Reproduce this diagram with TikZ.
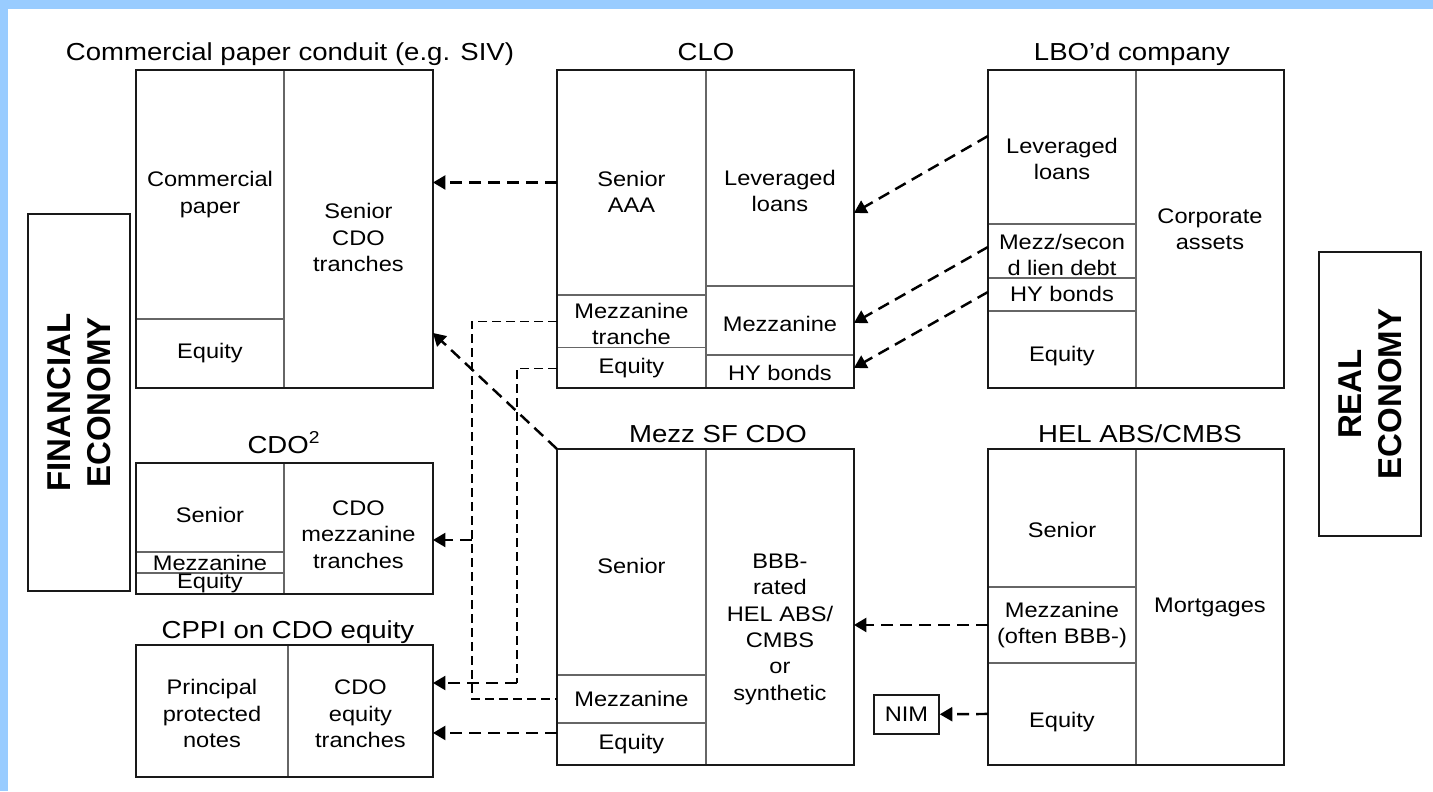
\documentclass[tikz,border=0pt]{standalone}
\usepackage{fontspec}
\setmainfont{Liberation Sans}[FakeStretch=1.12]
\newfontfamily\econfont{Liberation Sans}
\usepackage{tikz}
\usetikzlibrary{arrows.meta}
\definecolor{bandblue}{RGB}{153,204,255}
\newcommand{\lowertext}[2]{\raisebox{-#1}[\height][\depth]{\begin{tabular}{@{}c@{}}#2\end{tabular}}}

\begin{document}
\begin{tikzpicture}[x=0.02cm, y=-0.02cm,
  cell/.style={draw=black!60, line width=0.9pt, inner sep=0pt, outer sep=0pt, anchor=north west, align=center, minimum width=2.96cm, font=\fontsize{12}{15}\selectfont},
  frame/.style={draw=black!90, line width=0.9pt},
  title/.style={anchor=base, font=\fontsize{14}{16}\selectfont},
  econ/.style={draw=black!90, line width=0.9pt, rotate=90, align=center, minimum height=2.04cm, font=\econfont\bfseries\fontsize{18.8}{22.7}\selectfont},
  flow/.style={-{Triangle[length=0.25cm, width=0.28cm]}, line width=1.4pt, dash pattern=on 0.24cm off 0.14cm},
  link/.style={line width=0.7pt, dash pattern=on 0.18cm off 0.1cm}]
\useasboundingbox (0,0) rectangle (1433,791);
\fill[bandblue] (0,0) rectangle (1433,9);
\fill[bandblue] (0,0) rectangle (8,791);

\node (finEcon) [econ, minimum width=7.54cm] at (79,402.5) {FINANCIAL\\ECONOMY};
\node (realEcon) [econ, minimum width=5.68cm] at (1370,394) {REAL\\ECONOMY};

% commercial paper conduit
\node (cpPaper) [cell, minimum height=4.98cm] at (136,70) {Commercial\\paper};
\node (cpEquity) [cell, minimum height=1.38cm] at (cpPaper.south west) {Equity};
\node (cpSenior) [cell, minimum width=2.98cm, minimum height=6.36cm] at (cpPaper.north east) {\lowertext{0.22cm}{Senior\\CDO\\tranches}};
\draw[frame] (cpPaper.north west) rectangle (cpSenior.south east);
\node (cpTitle) [title] at ([yshift=0.2cm, xshift=0.12cm]cpPaper.north east) {Commercial paper conduit (e.g. SIV)};

% CLO
\node (cloSenior) [cell, minimum width=2.98cm, minimum height=4.5cm] at (557,70) {\lowertext{0.24cm}{Senior\\AAA}};
\node (cloMezz) [cell, minimum width=2.98cm, minimum height=1.04cm] at (cloSenior.south west) {\lowertext{0.1cm}{Mezzanine\\tranche}};
\node (cloEquity) [cell, minimum width=2.98cm, minimum height=0.82cm] at (cloMezz.south west) {Equity};
\node (cloLoans) [cell, minimum height=4.32cm] at (cloSenior.north east) {\lowertext{0.3cm}{Leveraged\\loans}};
\node (cloMezzR) [cell, minimum height=1.38cm] at (cloLoans.south west) {\lowertext{0.12cm}{Mezzanine}};
\node (cloHY) [cell, minimum height=0.66cm] at (cloMezzR.south west) {\lowertext{0.07cm}{HY bonds}};
\draw[frame] (cloSenior.north west) rectangle (cloHY.south east);
\node (cloTitle) [title] at ([yshift=0.2cm]cloSenior.north east) {CLO};

% LBO'd company
\node (lboLoans) [cell, minimum height=3.08cm] at (988,70) {\lowertext{0.28cm}{Leveraged\\loans}};
\node (lboMezz) [cell, minimum height=1.08cm] at (lboLoans.south west) {\lowertext{0.12cm}{Mezz/secon\\d lien debt}};
\node (lboHY) [cell, minimum height=0.66cm] at (lboMezz.south west) {HY bonds};
\node (lboEquity) [cell, minimum height=1.54cm] at (lboHY.south west) {\lowertext{0.14cm}{Equity}};
\node (lboAssets) [cell, minimum height=6.36cm] at (lboLoans.north east) {Corporate\\assets};
\draw[frame] (lboLoans.north west) rectangle (lboAssets.south east);
\node (lboTitle) [title] at ([yshift=0.2cm, xshift=-0.08cm]lboLoans.north east) {LBO’d company};

% CDO squared
\node (sqSenior) [cell, minimum height=1.78cm] at (136,463) {\lowertext{0.2cm}{Senior}};
\node (sqMezz) [cell, minimum height=0.42cm] at (sqSenior.south west) {Mezzanine};
\node (sqEquity) [cell, minimum height=0.42cm] at (sqMezz.south west) {Equity};
\node (sqTranches) [cell, minimum width=2.98cm, minimum height=2.62cm] at (sqSenior.north east) {\lowertext{0.16cm}{CDO\\mezzanine\\tranches}};
\draw[frame] (sqSenior.north west) rectangle (sqTranches.south east);
\node (sqTitle) [title] at ([yshift=0.2cm]sqSenior.north east) {CDO\textsuperscript{2}};

% CPPI
\node (cppiNotes) [cell, minimum width=3.04cm, minimum height=2.64cm] at (136,645) {\lowertext{0.1cm}{Principal\\protected\\notes}};
\node (cppiTranches) [cell, minimum width=2.9cm, minimum height=2.64cm] at (cppiNotes.north east) {\lowertext{0.1cm}{CDO\\equity\\tranches}};
\draw[frame] (cppiNotes.north west) rectangle (cppiTranches.south east);
\node (cppiTitle) [title] at ([yshift=0.14cm]cppiNotes.north east) {CPPI on CDO equity};

% mezz SF CDO
\node (msfSenior) [cell, minimum width=2.98cm, minimum height=4.52cm] at (557,449) {\lowertext{0.12cm}{Senior}};
\node (msfMezz) [cell, minimum width=2.98cm, minimum height=0.96cm] at (msfSenior.south west) {Mezzanine};
\node (msfEquity) [cell, minimum width=2.98cm, minimum height=0.84cm] at (msfMezz.south west) {Equity};
\node (msfRight) [cell, minimum height=6.32cm] at (msfSenior.north east) {\lowertext{0.44cm}{BBB-\\rated\\HEL ABS/\\CMBS\\or\\synthetic}};
\draw[frame] (msfSenior.north west) rectangle (msfRight.south east);
\node (msfTitle) [title] at ([yshift=0.14cm, xshift=0.24cm]msfSenior.north east) {Mezz SF CDO};

% HEL ABS/CMBS
\node (helSenior) [cell, minimum height=2.76cm] at (988,449) {\lowertext{0.28cm}{Senior}};
\node (helMezz) [cell, minimum height=1.52cm] at (helSenior.south west) {Mezzanine\\(often BBB-)};
\node (helEquity) [cell, minimum height=2.04cm] at (helMezz.south west) {\lowertext{0.16cm}{Equity}};
\node (helMortgages) [cell, minimum height=6.32cm] at (helSenior.north east) {Mortgages};
\draw[frame] (helSenior.north west) rectangle (helMortgages.south east);
\node (helTitle) [title] at ([yshift=0.14cm, xshift=0.08cm]helSenior.north east) {HEL ABS/CMBS};

\node (nim) [draw=black!90, line width=0.9pt, minimum width=1.3cm, minimum height=0.78cm, inner sep=0pt, font=\fontsize{12}{15}\selectfont] at (906.5,714.5) {NIM};

\coordinate (spineA) at (472,0);
\coordinate (spineB) at (517,0);
\coordinate (sqIn) at ([yshift=-0.23cm]sqTranches.east);
\coordinate (cppiIn) at ([yshift=0.56cm]cppiTranches.east);

\draw[flow] (cloSenior.west) -- (cloSenior.west -| cpSenior.east);
\draw[flow] ([yshift=0.22cm]lboLoans.west) -- ([yshift=-0.7cm]cloLoans.east);
\draw[flow] ([yshift=0.08cm]lboMezz.west) -- ([yshift=-0.05cm]cloMezzR.east);
\draw[flow] ([yshift=0.05cm]lboHY.west) -- ([yshift=0.07cm]cloHY.east);
\draw[flow] (msfSenior.north west) -- ([yshift=1.1cm]cpSenior.south east);
\draw[link] (cloMezz.west) -| (spineA |- msfMezz.west) -- (msfMezz.west);
\draw[flow] (sqIn -| spineA) -- (sqIn);
\draw[link] (cloEquity.west) -| (cppiIn -| spineB);
\draw[flow] (cppiIn -| spineB) -- (cppiIn);
\draw[flow] ([yshift=0.22cm]msfEquity.west) -- ([yshift=0.22cm]msfEquity.west -| cppiTranches.east);
\draw[flow] (helMezz.west) -- (helMezz.west -| msfRight.east);
\draw[flow] (helEquity.west) -- (nim);
\end{tikzpicture}
\end{document}
